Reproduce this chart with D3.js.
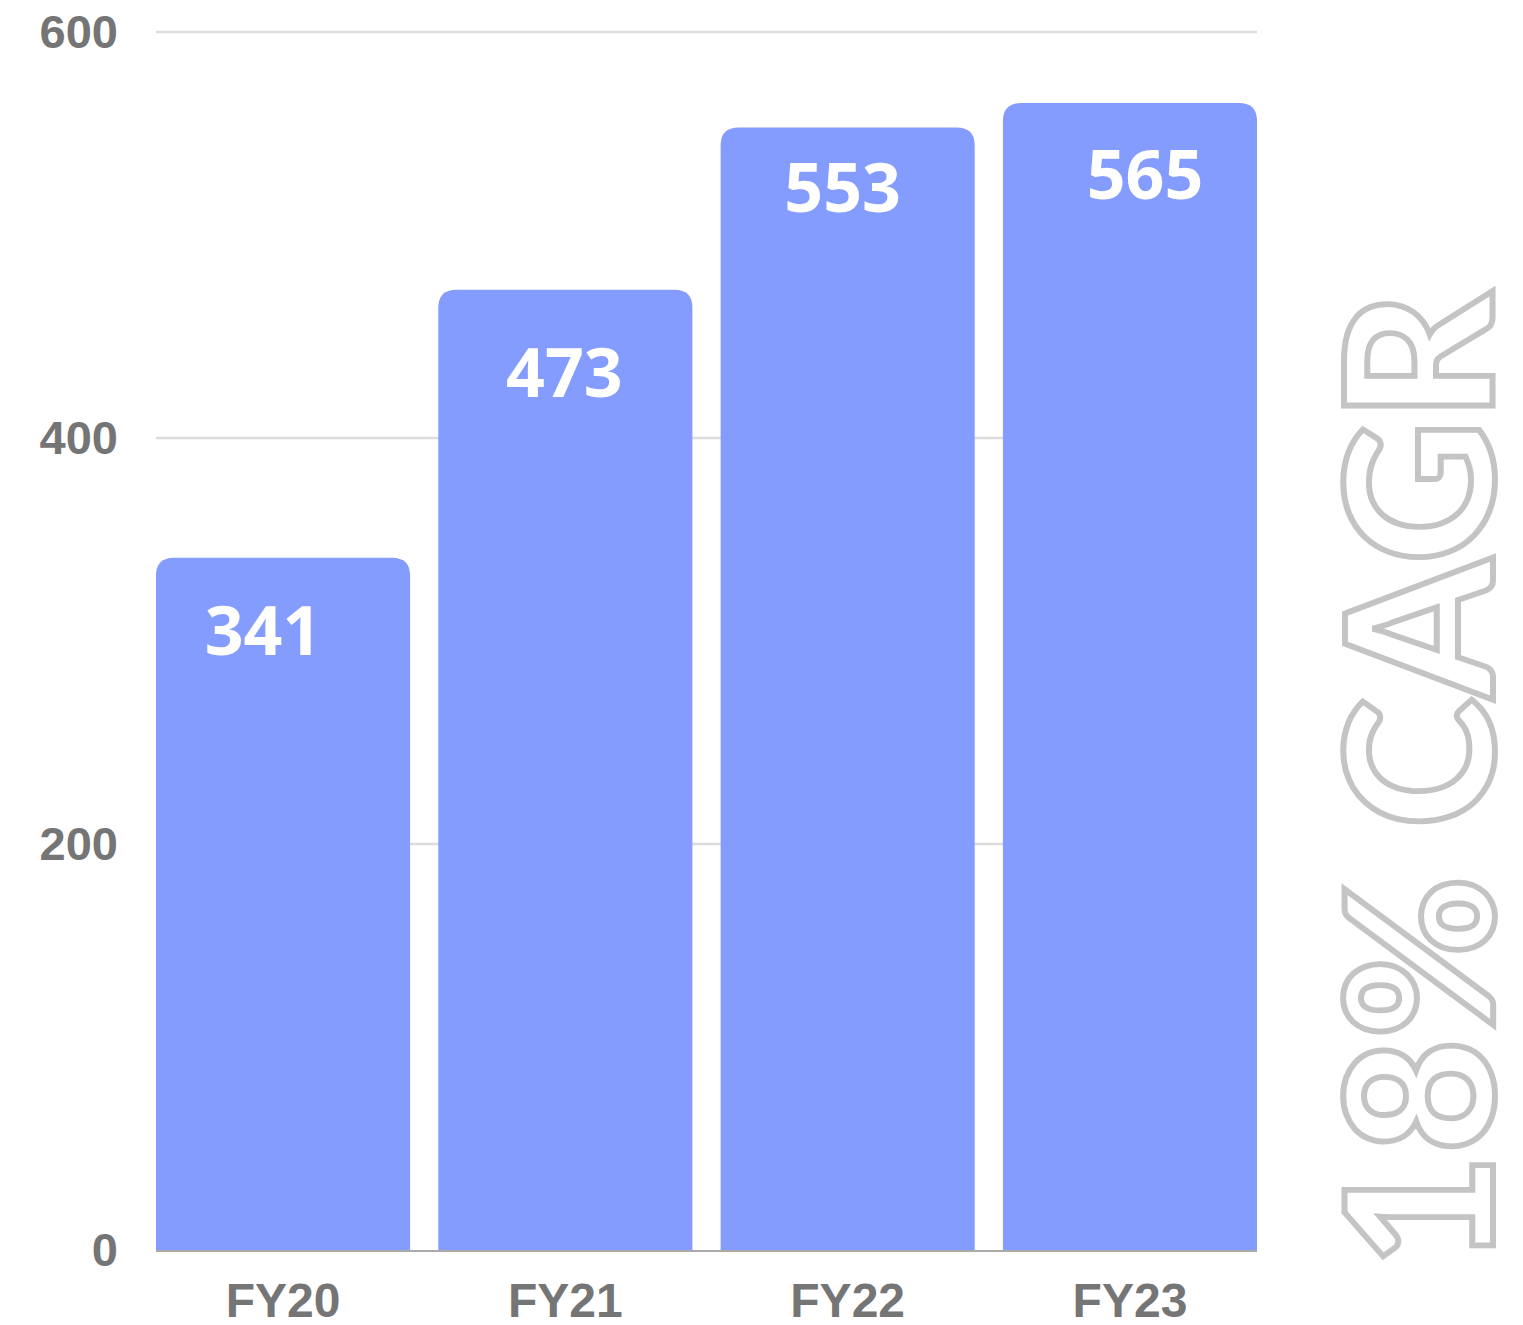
<!DOCTYPE html>
<html><head><meta charset="utf-8">
<script src="https://cdn.jsdelivr.net/npm/d3@7"></script>
<style>body{margin:0;background:#fff}</style>
</head><body>
<svg id="chart" width="1523" height="1325"></svg>
<script>
const categories = ["FY20", "FY21", "FY22", "FY23"];
const values = [341, 473, 553, 565];
const yTicks = [0, 200, 400, 600];
const annotation = "18% CAGR";
// per-label nudges (layout only)
const labelNudge = [[-20, 97], [-1, 107], [-5, 85], [15, 96]];

const svg = d3.select("#chart");
const m = {left: 156, right: 1257, top: 32, bottom: 1250};
const x = d3.scaleBand().domain(categories).range([m.left, m.right]).paddingInner(0.1).paddingOuter(0);
const y = d3.scaleLinear().domain([0, 600]).range([m.bottom, m.top]);

// grid
svg.append("g").selectAll("line").data(yTicks.filter(d => d > 0)).join("line")
  .attr("x1", m.left).attr("x2", m.right)
  .attr("y1", d => y(d)).attr("y2", d => y(d))
  .attr("stroke", "#dcdcdc").attr("stroke-width", 2.5);

// y axis labels
const yAxis = d3.axisLeft(y).tickValues(yTicks).tickSize(0).tickPadding(0);
const gy = svg.append("g").attr("transform", `translate(118,0)`).call(yAxis);
gy.select(".domain").remove();
gy.selectAll("text").attr("font-family", "Liberation Sans, Arial, sans-serif")
  .attr("font-weight", "bold").attr("font-size", 47).attr("fill", "#757575").attr("dy", "0.33em");

// bars with rounded top corners
const r = 18;
function barPath(x0, y0, w, h) {
  const rr = Math.min(r, h);
  return `M${x0},${y0 + h}V${y0 + rr}Q${x0},${y0} ${x0 + rr},${y0}H${x0 + w - rr}Q${x0 + w},${y0} ${x0 + w},${y0 + rr}V${y0 + h}Z`;
}
svg.append("g").selectAll("path").data(values).join("path")
  .attr("d", (d, i) => barPath(x(categories[i]), y(d), x.bandwidth(), y(0) - y(d)))
  .attr("fill", "#859cff");

// baseline
svg.append("line").attr("x1", m.left).attr("x2", m.right).attr("y1", y(0) + 1).attr("y2", y(0) + 1)
  .attr("stroke", "#aaaaaa").attr("stroke-width", 2);

// value labels
svg.append("g").selectAll("text").data(values).join("text")
  .attr("x", (d, i) => x(categories[i]) + x.bandwidth() / 2 + labelNudge[i][0])
  .attr("y", (d, i) => y(d) + labelNudge[i][1])
  .attr("text-anchor", "middle")
  .attr("font-family", "Open Sans, sans-serif").attr("font-weight", "bold")
  .attr("font-size", 68).attr("fill", "#ffffff")
  .text(d => d);

// x axis labels
const xAxis = d3.axisBottom(x).tickSize(0).tickPadding(0);
const gx = svg.append("g").attr("transform", `translate(0,${m.bottom})`).call(xAxis);
gx.select(".domain").remove();
gx.selectAll("text").attr("font-family", "Liberation Sans, Arial, sans-serif")
  .attr("font-weight", "bold").attr("font-size", 48).attr("fill", "#757575")
  .attr("dy", null).attr("y", 67);

// CAGR annotation
svg.append("text")
  .attr("transform", "translate(1493,1268) rotate(-90)")
  .attr("font-family", "Lato, sans-serif").attr("font-weight", 900)
  .attr("font-size", 205).attr("fill", "#ffffff").attr("stroke", "#c4c4c4").attr("stroke-width", 6)
  .attr("textLength", 976).attr("lengthAdjust", "spacingAndGlyphs")
  .text(annotation);
</script>
</body></html>
